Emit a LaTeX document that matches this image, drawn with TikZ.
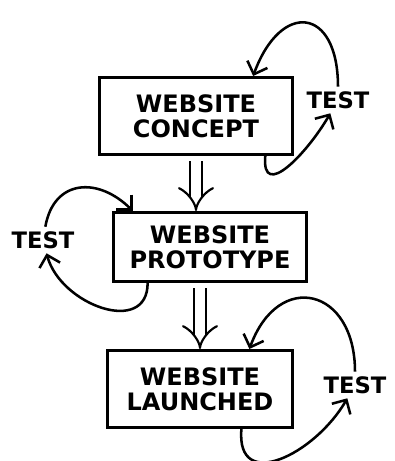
\documentclass[tikz,border=0pt]{standalone}
\usepackage{fontspec}
\setmainfont{DejaVu Sans}
\usetikzlibrary{arrows.meta}

\begin{document}
\begin{tikzpicture}[x=0.75pt,y=-0.75pt]
\useasboundingbox (0,0) rectangle (395,461);

\begin{scope}[every node/.style={draw,line width=2pt,align=center,
              font=\bfseries\fontsize{18}{19}\selectfont}]
    \node[minimum width=145pt,minimum height=58pt] (concept) at (196,116) {WEBSITE\\CONCEPT};
    \node[minimum width=145pt,minimum height=52pt] (proto) at (210,247) {WEBSITE\\PROTOTYPE};
    \node[minimum width=139pt,minimum height=58pt] (launch) at (200,389) {WEBSITE\\LAUNCHED};
\end{scope}

\begin{scope}[every node/.style={font=\bfseries\fontsize{17}{18}\selectfont}]
    \node (t1) at (338,100) {TEST};
    \node (t2) at (43,240) {TEST};
    \node (t3) at (355,385) {TEST};
\end{scope}

\begin{scope}[>={Straight Barb[length=8pt,width=16pt]},
              every edge/.style={draw,line width=1.9pt}]
    \path [->] (t1) edge[out=90,in=70,looseness=2.4] (concept.35);
    \path [->] (concept.-30) edge[out=-95,in=-120,looseness=1.5] (t1);
    \path [->] (t2) edge[out=80,in=135,looseness=1.4] (proto.155);
    \path [->] (proto.-150) edge[out=-90,in=-75,looseness=1.3] (t2);
    \path [->] (t3) edge[out=90,in=70,looseness=2.0] (launch.39);
    \path [->] (launch.-44) edge[out=-95,in=-120,looseness=1.5] (t3);
    %\path [->] (concept) edge (proto);
    \path [-{Implies}] (concept.south) edge[double,double distance=8pt,line width=1.6pt,shorten <=4pt] (concept.south |- proto.north);
    \path [-{Implies}] (launch.north |- proto.south) edge[double,double distance=8pt,line width=1.6pt,shorten <=4pt] (launch.north);
\end{scope}
\end{tikzpicture}
\end{document}
